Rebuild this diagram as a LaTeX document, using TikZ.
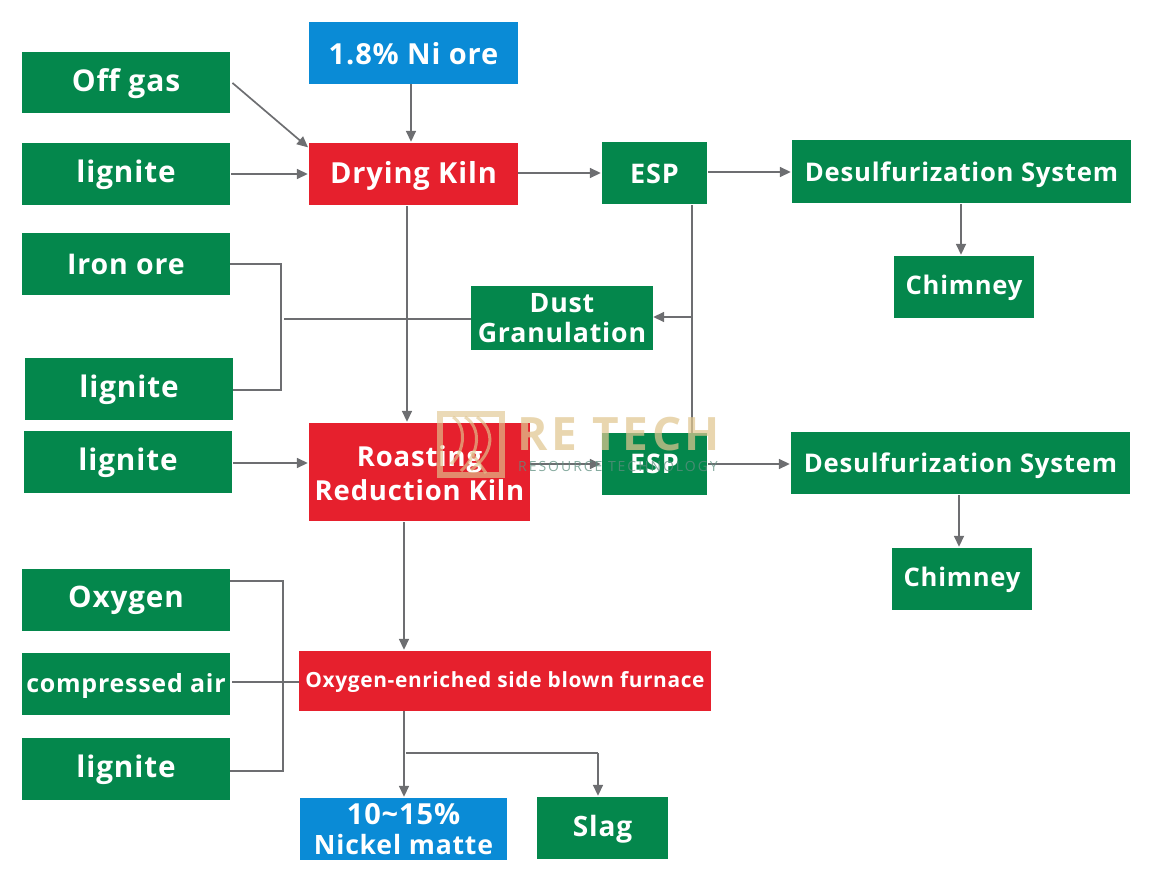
\documentclass[tikz,border=0pt]{standalone}
\usepackage{fontspec}
\setmainfont[LetterSpace=3]{Open Sans}
\usetikzlibrary{arrows.meta}
\definecolor{gbox}{HTML}{04874C}
\definecolor{rbox}{HTML}{E6202D}
\definecolor{bbox}{HTML}{0A8BD6}
\definecolor{conn}{HTML}{6D6E71}
\definecolor{wmtan}{HTML}{E0C690}
\definecolor{wmteal}{HTML}{5F8F80}
\tikzset{
 x=1pt,y=-1pt,
 box/.style={inner sep=0pt,text=white,align=center,font=\bfseries},
 green box/.style={box,fill=gbox},
 red box/.style={box,fill=rbox},
 blue box/.style={box,fill=bbox},
 line/.style={draw=conn,line width=1.7pt},
 arrow/.style={line,shorten >=1pt,shorten <=1pt,-{Triangle[length=11pt,width=10pt]}},
 logo line/.style={draw=wmtan,opacity=.65,line width=3pt},
}
\newcommand{\bx}[7]{\node[#1,minimum width=#5pt-#3pt,minimum height=#6pt-#4pt] (#2) at ({(#3+#5)/2},{(#4+#6)/2}) {#7};}
% single line: baseline offset from centre, font size, text
\newcommand{\bl}[3]{\raisebox{-#1pt}[0pt][0pt]{\fontsize{#2}{#2}\selectfont #3}}
% one line of a two-line label: size, height and depth of its line box, text
\newcommand{\ml}[4]{\fontsize{#1}{#1}\selectfont\rule[-#3pt]{0pt}{\dimexpr#2pt+#3pt\relax}#4}
\begin{document}
\begin{tikzpicture}
\useasboundingbox (0,0) rectangle (1160,889);
\bx{green box}{offgas}{22}{52}{230}{113}{\bl{9}{30}{Off gas}}
\bx{green box}{ligA}{22}{143}{230}{205}{\bl{8}{29.7}{lignite}}
\bx{green box}{iron}{22}{233}{230}{295}{\bl{10.5}{28.5}{Iron ore}}
\bx{green box}{ligB}{25}{358}{233}{420}{\bl{8}{29.7}{lignite}}
\bx{green box}{ligC}{24}{431}{232}{493}{\bl{8}{29.7}{lignite}}
\bx{green box}{oxy}{22}{569}{230}{631}{\bl{7.5}{29.6}{Oxygen}}
\bx{green box}{air}{22}{653}{230}{715}{\bl{8}{25}{compressed air}}
\bx{green box}{ligD}{22}{738}{230}{800}{\bl{8}{29.7}{lignite}}
\bx{blue box}{ni}{309}{22}{518}{84}{\bl{11}{29}{1.8\% Ni ore}}
\bx{red box}{dry}{309}{143}{518}{205}{\bl{9.5}{29}{Drying Kiln}}
\bx{green box}{espA}{602}{142}{707}{204}{\bl{10}{27}{ESP}}
\bx{green box}{desA}{792}{140}{1131}{203}{\bl{9.5}{25.7}{Desulfurization System}}
\bx{green box}{chiA}{894}{256}{1034}{318}{\bl{7}{25.6}{Chimney}}
\bx{green box}{dust}{471}{286}{653}{350}{\ml{26.7}{24}{5}{Dust}\\\ml{26.7}{24}{5}{Granulation}}
\bx{red box}{roast}{309}{423}{530}{521}{\ml{27.5}{26}{3}{Roasting}\\\ml{27.5}{26}{3}{Reduction Kiln}}
\bx{green box}{espB}{602}{433}{707}{495}{\bl{9.5}{27}{ESP}}
\bx{green box}{desB}{791}{432}{1130}{494}{\bl{9.5}{25.7}{Desulfurization System}}
\bx{green box}{chiB}{892}{548}{1032}{610}{\bl{7}{25.6}{Chimney}}
\bx{red box}{side}{299}{651}{711}{711}{\bl{6}{20.9}{Oxygen-enriched side blown furnace}}
\bx{blue box}{matte}{300}{798}{507}{860}{\ml{29}{25}{4}{10\textasciitilde15\%}\\\ml{26.6}{25}{4}{Nickel matte}}
\bx{green box}{slag}{537}{797}{668}{859}{\bl{8}{28}{Slag}}

\coordinate (jDust) at (284,319);
\coordinate (kIronA) at (281,264);
\coordinate (kIronB) at (281,390);
\coordinate (kOxyA) at (283,581);
\coordinate (kOxyB) at (283,771);
\coordinate (jEsp) at (692,317);
\coordinate (jSide) at (406,753);
\coordinate (kSlag) at (598,753);

\draw[arrow,shorten <=3pt] (offgas.east |- 0,81) -- (dry.north west |- 307,148);
\draw[arrow] (ligA.east |- 0,174) -- (dry.west |- 0,174);
\draw[arrow,shorten <=0pt] (411,0 |- ni.south) -- (411,0 |- dry.north);
\draw[arrow,shorten <=0pt] (dry.east |- 0,173) -- (espA.west |- 0,173);
\draw[arrow] (espA.east |- 0,172) -- (desA.west |- 0,172);
\draw[arrow] (961,0 |- desA.south) -- (961,0 |- chiA.north);
\draw[arrow] (407,0 |- dry.south) -- (407,0 |- roast.north);
\draw[line,shorten <=1pt] (692,0 |- espA.south) -- (692,0 |- espB.north);
\draw[arrow,shorten <=0pt,shorten >=0pt] (jEsp) -- (jEsp -| dust.east);
\draw[line] (jDust) -- (jDust -| dust.west);
\draw[line] (iron.east |- kIronA) -- (kIronA) -- (kIronB) -- (ligB.east |- kIronB);
\draw[arrow] (ligC.east |- 0,463) -- (roast.west |- 0,463);
\draw[arrow,shorten <=0pt] (roast.east |- 0,464) -- (espB.west |- 0,464);
\draw[arrow] (espB.east |- 0,464) -- (desB.west |- 0,464);
\draw[arrow] (959,0 |- desB.south) -- (959,0 |- chiB.north);
\draw[arrow] (404,0 |- roast.south) -- (404,0 |- side.north);
\draw[line] (oxy.east |- kOxyA) -- (kOxyA) -- (kOxyB) -- (ligD.east |- kOxyB);
\draw[line,shorten <=2pt] (air.east |- 0,682) -- (side.west |- 0,682);
\draw[arrow,shorten <=0pt] (404,0 |- side.south) -- (404,0 |- matte.north);
\draw[line] (jSide) -- (kSlag);
\draw[arrow,shorten <=0pt] (kSlag) -- (598,0 |- slag.north);

% watermark
\draw[logo line,line width=5.5pt] (440,414) rectangle (502,475);
\draw[logo line] (453,417) .. controls (466,425) and (466,450) .. (451,464);
\draw[logo line] (465,417) .. controls (481,427) and (481,452) .. (461,471);
\draw[logo line] (477,417) .. controls (495,430) and (495,452) .. (471,470);
\draw[logo line] (471,452) -- (486,473);
\node[inner sep=0pt,text=wmtan,opacity=.72,font=\fontsize{46}{46}\selectfont\bfseries\addfontfeature{LetterSpace=7.5}] (wmA) at (619,434) {RE TECH};
\node[inner sep=0pt,text=wmteal,opacity=.75,font=\fontsize{14}{14}\selectfont\addfontfeature{LetterSpace=14}] (wmB) at (618,466) {RESOURCE TECHNOLOGY};
\end{tikzpicture}
\end{document}
